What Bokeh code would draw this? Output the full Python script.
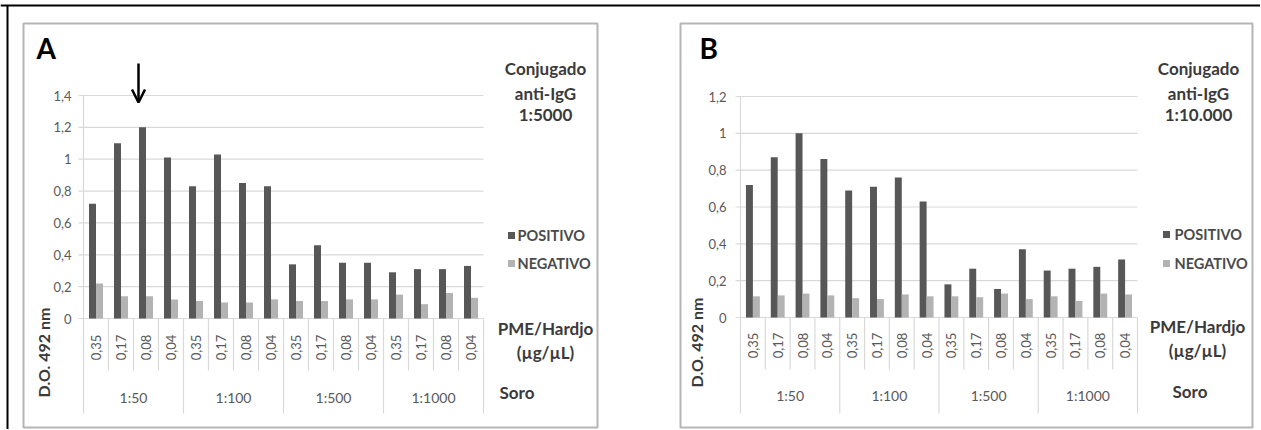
import numpy as np
from bokeh.plotting import figure
from bokeh.models import Range1d, Arrow, OpenHead
from bokeh.core.properties import value
from bokeh.embed import file_html
from bokeh.resources import INLINE

# ---------------- data ----------------
groups = ["1:50", "1:100", "1:500", "1:1000"]
conc = ["0,35", "0,17", "0,08", "0,04"]
series = ["POSITIVO", "NEGATIVO"]

a_pos = [0.72, 1.10, 1.20, 1.01, 0.83, 1.03, 0.85, 0.83, 0.34, 0.46, 0.35, 0.35, 0.29, 0.31, 0.31, 0.33]
a_neg = [0.22, 0.14, 0.14, 0.12, 0.11, 0.10, 0.10, 0.12, 0.11, 0.11, 0.12, 0.12, 0.15, 0.09, 0.16, 0.13]
b_pos = [0.72, 0.87, 1.00, 0.86, 0.69, 0.71, 0.76, 0.63, 0.18, 0.265, 0.155, 0.37, 0.255, 0.265, 0.275, 0.315]
b_neg = [0.115, 0.12, 0.13, 0.12, 0.105, 0.10, 0.125, 0.115, 0.115, 0.11, 0.13, 0.10, 0.115, 0.09, 0.13, 0.125]

a_ticks = [0, 0.2, 0.4, 0.6, 0.8, 1.0, 1.2, 1.4]
a_tick_labels = ["0", "0,2", "0,4", "0,6", "0,8", "1", "1,2", "1,4"]
b_ticks = [0, 0.2, 0.4, 0.6, 0.8, 1.0, 1.2]
b_tick_labels = ["0", "0,2", "0,4", "0,6", "0,8", "1", "1,2"]

a_title = ["Conjugado", "anti-IgG", "1:5000"]
b_title = ["Conjugado", "anti-IgG", "1:10.000"]

# ---------------- style ----------------
FONT = value("Lato")
POS_COLOR = "#575757"
NEG_COLOR = "#b3b3b3"
GRID = "#d9d9d9"
LABEL = "#595959"
DARK = "#3a3a3a"
W = 1260
H = 429


def ranges(cfg, n, ymax):
    pl, pr = cfg["plot_left"], cfg["plot_right"]
    zy, ty = cfg["zero_y"], cfg["top_y"]
    cw = (pr - pl) / n
    xs = -0.5 - pl / cw
    pyu = (zy - ty) / ymax
    return cw, xs, pyu, Range1d(xs, xs + W / cw), Range1d(-(H - zy) / pyu, zy / pyu)


def panel(p, letter, pos, neg, ticks, tick_labels, title_lines, cfg, xn, yn, arrow=None):
    n = len(pos)
    ymax = ticks[-1]
    cw, xs, pyu, _, _ = ranges(cfg, n, ymax)
    zy = cfg["zero_y"]
    pl = cfg["plot_left"]
    kw = dict(x_range_name=xn, y_range_name=yn)

    def X(px):
        return xs + px / cw

    def Y(py):
        return (zy - py) / pyu

    if cfg.get("left_black"):
        p.segment(x0=[X(7)], y0=[Y(5)], x1=[X(7)], y1=[Y(H + 2)],
                  line_color="black", line_width=2, **kw)

    # panel frame
    fr = cfg["frame"]
    p.quad(left=[X(fr[0])], right=[X(fr[1])], top=[Y(fr[2])], bottom=[Y(min(fr[3], H - 1))],
           fill_color=None, line_color="#b5b5b5", line_width=2, **kw)

    idx = np.arange(n)
    # gridlines
    tk = np.array(ticks[1:])
    p.segment(x0=np.full(len(tk), X(pl - 5)), y0=tk, x1=np.full(len(tk), n - 0.5), y1=tk,
              line_color=GRID, line_width=1.2, **kw)
    p.segment(x0=[X(pl - 5)], y0=[0], x1=[n - 0.5], y1=[0], line_color=GRID, line_width=1.2, **kw)
    p.segment(x0=[-0.5], y0=[ymax], x1=[-0.5], y1=[Y(cfg["grp_bottom"])],
              line_color=GRID, line_width=1.2, **kw)

    # separators
    ng = len(groups)
    per = n // ng
    sub_b = [k + 0.5 for k in range(n - 1) if (k + 1) % per != 0]
    grp_b = [g * per + per - 0.5 for g in range(ng)]
    p.segment(x0=sub_b, y0=[0] * len(sub_b), x1=sub_b, y1=[Y(cfg["sub_bottom"])] * len(sub_b),
              line_color=GRID, line_width=1.2, **kw)
    p.segment(x0=grp_b, y0=[0] * len(grp_b), x1=grp_b, y1=[Y(cfg["grp_bottom"])] * len(grp_b),
              line_color=GRID, line_width=1.2, **kw)

    # bars
    bw = 0.28
    p.vbar(x=idx - 0.14, top=pos, width=bw, fill_color=POS_COLOR, line_color=None, **kw)
    p.vbar(x=idx + 0.14, top=neg, width=bw, fill_color=NEG_COLOR, line_color=None, **kw)

    # y tick labels
    p.text(x=[X(cfg["tick_right"])] * len(ticks), y=ticks, text=tick_labels,
           text_font=FONT, text_font_size="13px", text_color=LABEL,
           text_align="right", text_baseline="middle", **kw)

    # sub labels (rotated)
    p.text(x=idx, y=[Y(cfg["sub_y"])] * n, text=[conc[i % per] for i in range(n)],
           angle=np.pi / 2, text_font=FONT, text_font_size="13px", text_color=LABEL,
           text_align="center", text_baseline="middle", **kw)
    # group labels
    gc = [g * per + (per - 1) / 2 for g in range(ng)]
    p.text(x=gc, y=[Y(cfg["grp_y"])] * ng, text=groups,
           text_font=FONT, text_font_size="14px", text_color=LABEL,
           text_align="center", text_baseline="middle", **kw)

    # y axis title
    p.text(x=[X(cfg["ytitle"][0])], y=[Y(cfg["ytitle"][1])], text=["D.O. 492 nm"],
           angle=np.pi / 2, text_font=FONT, text_font_size="16px", text_font_style="bold",
           text_color=DARK, text_align="center", text_baseline="middle", **kw)

    # panel letter
    p.text(x=[X(cfg["letter"][0])], y=[Y(cfg["letter"][1])], text=[letter],
           text_font=FONT, text_font_size="28px", text_font_style="bold",
           text_color="black", text_align="left", text_baseline="middle", **kw)

    # conjugate title
    tx, tys = cfg["title_x"], cfg["title_ys"]
    p.text(x=[X(tx)] * 3, y=[Y(v) for v in tys], text=title_lines,
           text_font=FONT, text_font_size="17px", text_font_style="bold",
           text_color=DARK, text_align="center", text_baseline="middle", **kw)

    # legend
    lx, lys, ltx = cfg["leg_x"], cfg["leg_ys"], cfg["leg_text_x"]
    p.scatter(x=[X(lx)] * 2, y=[Y(v) for v in lys], marker="square", size=7,
              fill_color=[POS_COLOR, NEG_COLOR], line_color=None, **kw)
    p.text(x=[X(ltx)] * 2, y=[Y(v) for v in lys], text=series,
           text_font=FONT, text_font_size="14.5px", text_font_style="bold", text_color="#4a4a4a",
           text_align="left", text_baseline="middle", **kw)

    # axis names
    ax = cfg["axname_x"]
    p.text(x=[X(ax)] * 2, y=[Y(v) for v in cfg["axname_ys"]], text=["PME/Hardjo", "(µg/µL)"],
           text_font=FONT, text_font_size="17px", text_font_style="bold",
           text_color=DARK, text_align="center", text_baseline="middle", **kw)
    p.text(x=[X(cfg["soro"][0])], y=[Y(cfg["soro"][1])], text=["Soro"],
           text_font=FONT, text_font_size="17px", text_font_style="bold",
           text_color=DARK, text_align="left", text_baseline="middle", **kw)

    if arrow is not None:
        p.add_layout(Arrow(end=OpenHead(size=13, line_width=2.5, line_color="black"),
                           x_start=X(arrow[0]), y_start=Y(arrow[1]),
                           x_end=X(arrow[0]), y_end=Y(arrow[2]),
                           line_width=2.5, line_color="black", **kw))


cfgA = dict(plot_left=83, plot_right=483, zero_y=318, top_y=95,
            left_black=True, frame=(23, 597, 23, 427), grp_bottom=413, sub_bottom=370,
            tick_right=71, sub_y=347, grp_y=397, ytitle=(43, 352), letter=(36, 47),
            title_x=545, title_ys=(68, 93, 114), leg_x=511, leg_ys=(235, 263), leg_text_x=517,
            axname_x=545, axname_ys=(328, 352), soro=(499, 392))
cfgB = dict(plot_left=740, plot_right=1137, zero_y=317, top_y=96,
            left_black=False, frame=(680, 1252, 23, 427), grp_bottom=413, sub_bottom=369,
            tick_right=726, sub_y=345, grp_y=395, ytitle=(696, 342), letter=(699, 47),
            title_x=1198, title_ys=(68, 93, 114), leg_x=1166, leg_ys=(234, 263), leg_text_x=1174,
            axname_x=1197, axname_ys=(326, 350), soro=(1172, 391))

_, _, _, axr, ayr = ranges(cfgA, len(a_pos), a_ticks[-1])
cwB, xsB, pyuB, bxr, byr = ranges(cfgB, len(b_pos), b_ticks[-1])

p = figure(width=W, height=H, x_range=axr, y_range=ayr,
           output_backend="svg", toolbar_location=None, min_border=0,
           x_axis_location=None, y_axis_location=None)
p.extra_x_ranges = {"bx": bxr}
p.extra_y_ranges = {"by": byr}
p.outline_line_color = None
p.grid.visible = False
p.background_fill_color = "white"
p.border_fill_color = "white"

# outer black top line across the whole picture
_cwA, _xsA, _pyuA, _, _ = ranges(cfgA, len(a_pos), a_ticks[-1])
p.segment(x0=[_xsA], y0=[(cfgA["zero_y"] - 5) / _pyuA], x1=[_xsA + W / _cwA],
          y1=[(cfgA["zero_y"] - 5) / _pyuA], line_color="black", line_width=2)

panel(p, "A", a_pos, a_neg, a_ticks, a_tick_labels, a_title, cfgA, "default", "default",
      arrow=(138, 63, 102))
panel(p, "B", b_pos, b_neg, b_ticks, b_tick_labels, b_title, cfgB, "bx", "by")

open("out.html", "w").write(file_html(p, INLINE))
